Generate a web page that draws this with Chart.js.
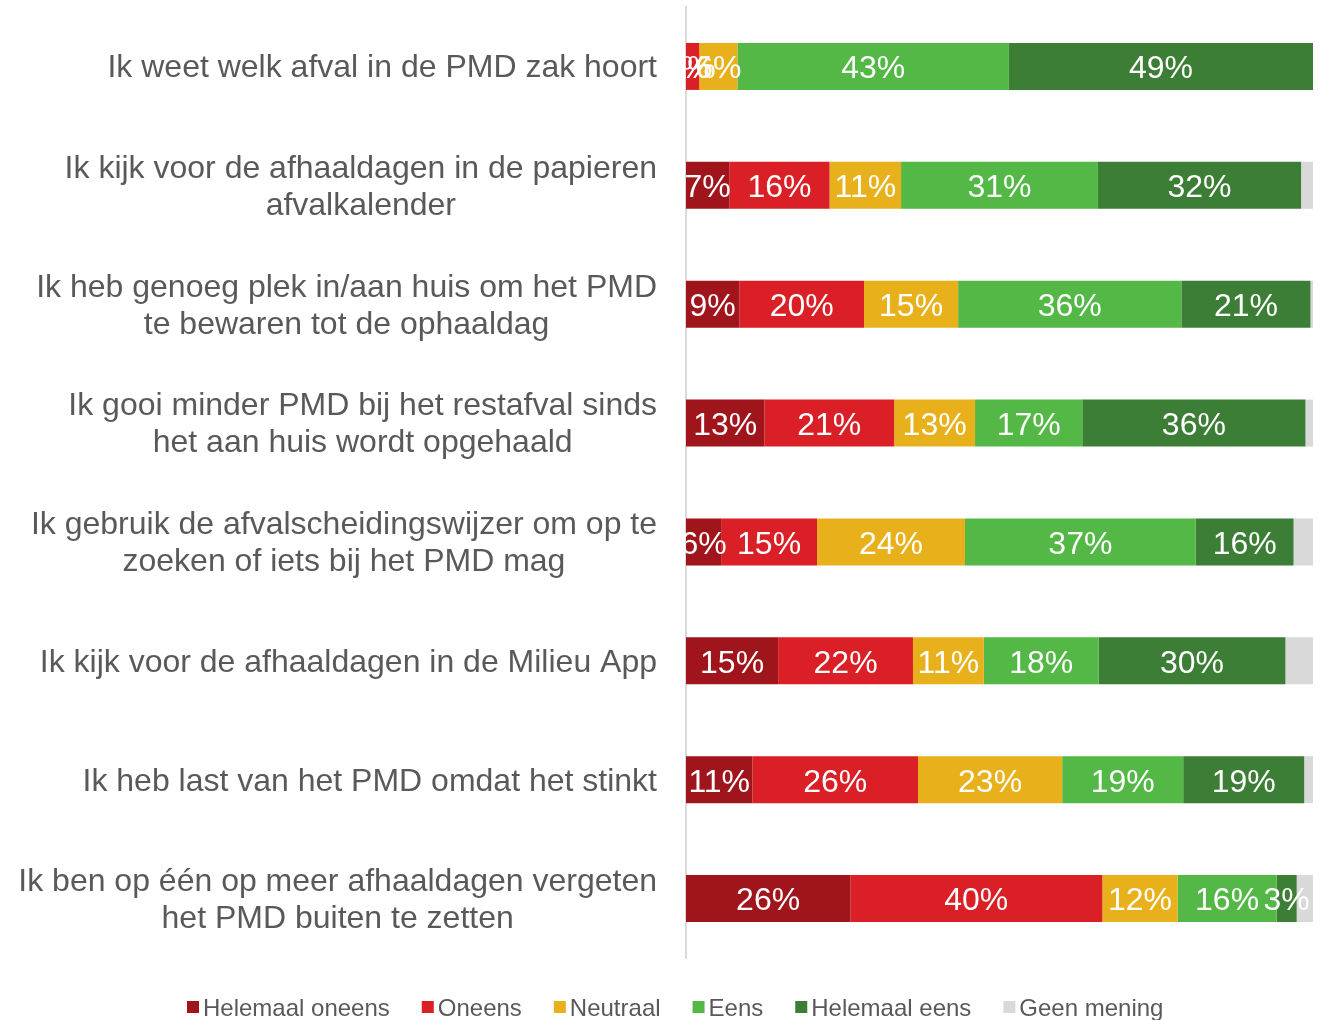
<!DOCTYPE html>
<html>
<head>
<meta charset="utf-8">
<script src="https://cdn.jsdelivr.net/npm/chart.js@4/dist/chart.umd.min.js"></script>
<style>
  html, body { margin: 0; padding: 0; background: #fff; overflow: hidden; }
  #wrap { width: 1329px; height: 1020px; position: relative; }
</style>
</head>
<body>
<div id="wrap"><canvas id="chart"></canvas></div>
<script>
const categories = [
  ["Ik weet welk afval in de PMD zak hoort"],
  ["Ik kijk voor de afhaaldagen in de papieren", "afvalkalender"],
  ["Ik heb genoeg plek in/aan huis om het PMD", "te bewaren tot de ophaaldag"],
  ["Ik gooi minder PMD bij het restafval sinds", "het aan huis wordt opgehaald"],
  ["Ik gebruik de afvalscheidingswijzer om op te", "zoeken of iets bij het PMD mag"],
  ["Ik kijk voor de afhaaldagen in de Milieu App"],
  ["Ik heb last van het PMD omdat het stinkt"],
  ["Ik ben op één op meer afhaaldagen vergeten", "het PMD buiten te zetten"]
];

const seriesNames = ["Helemaal oneens", "Oneens", "Neutraal", "Eens", "Helemaal eens", "Geen mening"];
const seriesColors = ["#A0141B", "#DA1F26", "#E8B11C", "#53B845", "#3C7E35", "#D9D9D9"];

const helemaalOneens = [0,   6.9, 8.5, 12.5, 5.6, 14.7, 10.6, 26.2];
const oneens         = [2.1, 16.0, 19.9, 20.7, 15.3, 21.5, 26.4, 40.2];
const neutraal       = [6.1, 11.4, 15.0, 12.9, 23.6, 11.3, 23.0, 12.0];
const eens           = [43.3, 31.4, 35.6, 17.1, 36.8, 18.3, 19.3, 15.8];
const helemaalEens   = [48.5, 32.4, 20.6, 35.6, 15.6, 29.8, 19.3, 3.2];
const geenMening     = [0,   1.9, 0.4, 1.2, 3.1, 4.4, 1.4, 2.6];

const values = [helemaalOneens, oneens, neutraal, eens, helemaalEens, geenMening];
const FONT = "'Liberation Sans', Arial, sans-serif";
const GREY = "#595959";

// white % labels centred in each segment (not on the grey part)
const barLabels = {
  id: "barLabels",
  afterDatasetsDraw(chart) {
    const { ctx } = chart;
    ctx.save();
    ctx.font = `32px ${FONT}`;
    ctx.fillStyle = "#fff";
    ctx.textAlign = "center";
    ctx.textBaseline = "middle";
    chart.data.datasets.forEach((ds, i) => {
      if (i === 5) return;
      chart.getDatasetMeta(i).data.forEach((bar, j) => {
        const v = ds.data[j];
        if (v == null) return;
        ctx.fillText(`${Math.round(v)}%`, (bar.x + bar.base) / 2, bar.y + 3);
      });
    });
    ctx.restore();
  }
};

// category labels: block right-aligned to the axis, lines centred on each other
const catLabels = {
  id: "catLabels",
  afterDraw(chart) {
    const { ctx } = chart;
    const y = chart.scales.y;
    const right = y.right - 29;
    ctx.save();
    ctx.font = `32px ${FONT}`;
    ctx.fillStyle = GREY;
    ctx.textAlign = "center";
    ctx.textBaseline = "middle";
    categories.forEach((lines, i) => {
      const w = Math.max(...lines.map(l => ctx.measureText(l).width));
      const cx = right - w / 2;
      const cy = y.getPixelForValue(i) + 2;
      lines.forEach((l, k) => ctx.fillText(l, cx, cy + (k - (lines.length - 1) / 2) * 37));
    });
    ctx.restore();
  }
};

// legend row under the plot
const legendRow = {
  id: "legendRow",
  afterDraw(chart) {
    const { ctx } = chart;
    ctx.save();
    ctx.font = `24px ${FONT}`;
    ctx.textBaseline = "middle";
    ctx.textAlign = "left";
    let x = 187;
    const yMid = 1009;
    chart.data.datasets.forEach((ds) => {
      ctx.fillStyle = ds.backgroundColor;
      ctx.fillRect(x, yMid - 8, 12, 12);
      ctx.fillStyle = GREY;
      ctx.fillText(ds.label, x + 16, yMid);
      x += 16 + ctx.measureText(ds.label).width + 32;
    });
    ctx.restore();
  }
};

new Chart(document.getElementById("chart"), {
  type: "bar",
  data: {
    labels: categories,
    datasets: seriesNames.map((name, i) => ({
      label: name,
      data: values[i],
      backgroundColor: seriesColors[i],
      borderWidth: 0,
      barPercentage: 1,
      categoryPercentage: 0.395
    }))
  },
  options: {
    indexAxis: "y",
    responsive: true,
    maintainAspectRatio: false,
    animation: false,
    layout: { padding: { top: 7, right: 16, left: 0, bottom: 62 } },
    plugins: {
      tooltip: { enabled: false },
      legend: { display: false }
    },
    scales: {
      x: { stacked: true, min: 0, max: 100, display: false },
      y: {
        stacked: true,
        grid: { display: false, drawTicks: false },
        border: { display: true, color: "#D9D9D9", width: 2 },
        ticks: { display: false },
        afterFit(scale) { scale.width = 686; }
      }
    }
  },
  plugins: [barLabels, catLabels, legendRow]
});
</script>
</body>
</html>
